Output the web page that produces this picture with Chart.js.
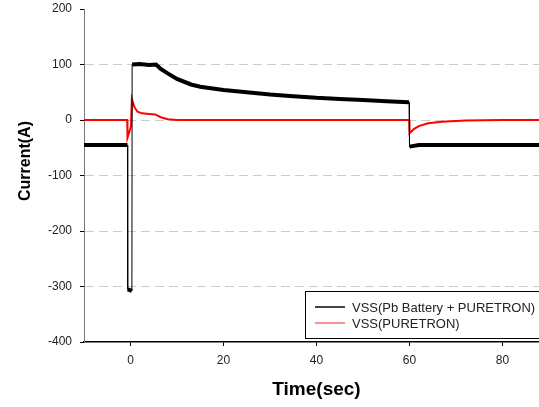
<!DOCTYPE html>
<html>
<head>
<meta charset="utf-8">
<script src="https://cdn.jsdelivr.net/npm/chart.js@4/dist/chart.umd.min.js"></script>
<style>
  html, body {
    margin: 0;
    padding: 0;
    background: #fff;
    overflow: hidden;
  }
  #wrap {
    width: 539px;
    height: 407px;
    overflow: hidden;
  }
</style>
</head>
<body>
<div id="wrap">
  <canvas id="currentChart" width="549" height="407"></canvas>
</div>
<script>

/* =========================
   DATA
========================= */

const labelBattery = "VSS(Pb Battery + PURETRON)";
const labelPuretron = "VSS(PURETRON)";

const timeBattery = [
  -10, -0.65, -0.6, 0.3, 0.35, 2, 4, 5.5, 6.5, 8, 10, 13,
  15, 20, 25, 30, 35, 40, 45, 50, 55, 59.9, 60, 62, 90
];

const currentBattery = [
  -45, -45, -305, -308, 100, 101, 99, 100, 92, 84, 74, 64,
  60, 54, 50, 46, 43, 40, 38, 36, 34, 32, -48, -45, -45
];

const timePuretron = [
  -10, -0.7, -0.65, 0.1, 0.3, 0.8, 1.5, 2.5, 4, 5.3, 6.5, 8, 10,
  59.95, 60, 61, 62, 64, 67, 72, 80, 90
];

const currentPuretron = [
  0, 0, -32, -12, 38, 24, 15, 12, 11, 10, 5, 1.5, 0,
  0, -24, -16, -11, -6, -3, -1, 0, 0
];

const xTicks = [0, 20, 40, 60, 80];

const yTicks = [-400, -300, -200, -100, 0, 100, 200];

const FONT = "Arial, 'Liberation Sans', sans-serif";

function toPoints(xs, ys) {
  return xs.map((x, i) => ({ x: x, y: ys[i] }));
}

/* =========================
   LEGEND BOX + Y TITLE
========================= */

const boxLegend = {

  id: "boxLegend",

  afterDraw(chart) {

    const ctx = chart.ctx;

    const items = [
      { text: labelBattery, color: "#444444", width: 2 },
      { text: labelPuretron, color: "#ff2020", width: 1 }
    ];

    ctx.save();

    ctx.strokeStyle = "#000";
    ctx.lineWidth = 1;
    ctx.fillStyle = "#fff";
    ctx.fillRect(305.5, 291.5, 240, 47);
    ctx.strokeRect(305.5, 291.5, 240, 47);

    ctx.font = "13px " + FONT;
    ctx.textBaseline = "middle";

    items.forEach((item, i) => {

      const y = 307 + i * 16;

      ctx.strokeStyle = item.color;
      ctx.lineWidth = item.width;
      ctx.beginPath();
      ctx.moveTo(315, y);
      ctx.lineTo(345, y);
      ctx.stroke();

      ctx.fillStyle = "#222";
      ctx.fillText(item.text, 352, y + 1);

    });

    // y axis title, sits a little above the plot centre
    ctx.translate(26, 161);
    ctx.rotate(-Math.PI / 2);
    ctx.font = "bold 16px " + FONT;
    ctx.fillStyle = "#000";
    ctx.textAlign = "center";
    ctx.textBaseline = "middle";
    ctx.fillText("Current(A)", 0, 0);

    ctx.restore();

  }

};

/* =========================
   CHART
========================= */

const chartCtx =
  document
    .getElementById("currentChart")
    .getContext("2d");

const currentChart =
  new Chart(chartCtx, {

    type: "line",

    data: {

      datasets: [

        {
          label: labelBattery,
          data: toPoints(timeBattery, currentBattery),
          borderColor: "#000",
          borderWidth: 4,
          pointRadius: 0,
          tension: 0,
          segment: {
            borderWidth: c =>
              Math.abs(c.p1.parsed.x - c.p0.parsed.x) < 0.2 ? 1 : 4
          }
        },

        {
          label: labelPuretron,
          data: toPoints(timePuretron, currentPuretron),
          borderColor: "#ff0000",
          borderWidth: 2,
          pointRadius: 0,
          tension: 0
        }

      ]

    },

    options: {

      responsive: false,

      animation: false,

      layout: {
        padding: { top: 9, right: 0, bottom: 0, left: 0 }
      },

      plugins: {
        legend: { display: false },
        tooltip: { enabled: false }
      },

      scales: {

        x: {

          type: "linear",
          min: -10,
          max: 90,

          afterBuildTicks: scale => {
            scale.ticks = xTicks.map(v => ({ value: v }));
          },

          afterFit: scale => {
            scale.height = 65;
            scale.paddingLeft = 0;
            scale.paddingRight = 0;
          },

          border: {
            color: "#000",
            width: 1.5
          },

          grid: {
            drawOnChartArea: false,
            drawTicks: true,
            tickLength: 4,
            tickColor: "#000"
          },

          ticks: {
            color: "#222",
            padding: 7,
            maxRotation: 0,
            font: { family: FONT, size: 12 }
          },

          title: {
            display: true,
            text: "Time(sec)",
            color: "#000",
            padding: { top: 0, bottom: 6 },
            font: { family: FONT, size: 19, weight: "bold" }
          }

        },

        y: {

          type: "linear",
          min: -400,
          max: 200,

          afterBuildTicks: scale => {
            scale.ticks = yTicks.map(v => ({ value: v }));
          },

          afterFit: scale => {
            scale.width = 84;
            scale.paddingTop = 0;
            scale.paddingBottom = 0;
          },

          border: {
            color: "#777",
            width: 1,
            dash: [9, 5]
          },

          grid: {
            color: c =>
              c.tick && (c.tick.value === 200 || c.tick.value === -400)
                ? "rgba(0,0,0,0)"
                : "#cccccc",
            tickBorderDash: [],
            drawTicks: true,
            tickLength: 4,
            tickColor: "#000"
          },

          ticks: {
            color: "#222",
            padding: 8,
            font: { family: FONT, size: 12 }
          }

        }

      }

    },

    plugins: [boxLegend]

  });

</script>
</body>
</html>
